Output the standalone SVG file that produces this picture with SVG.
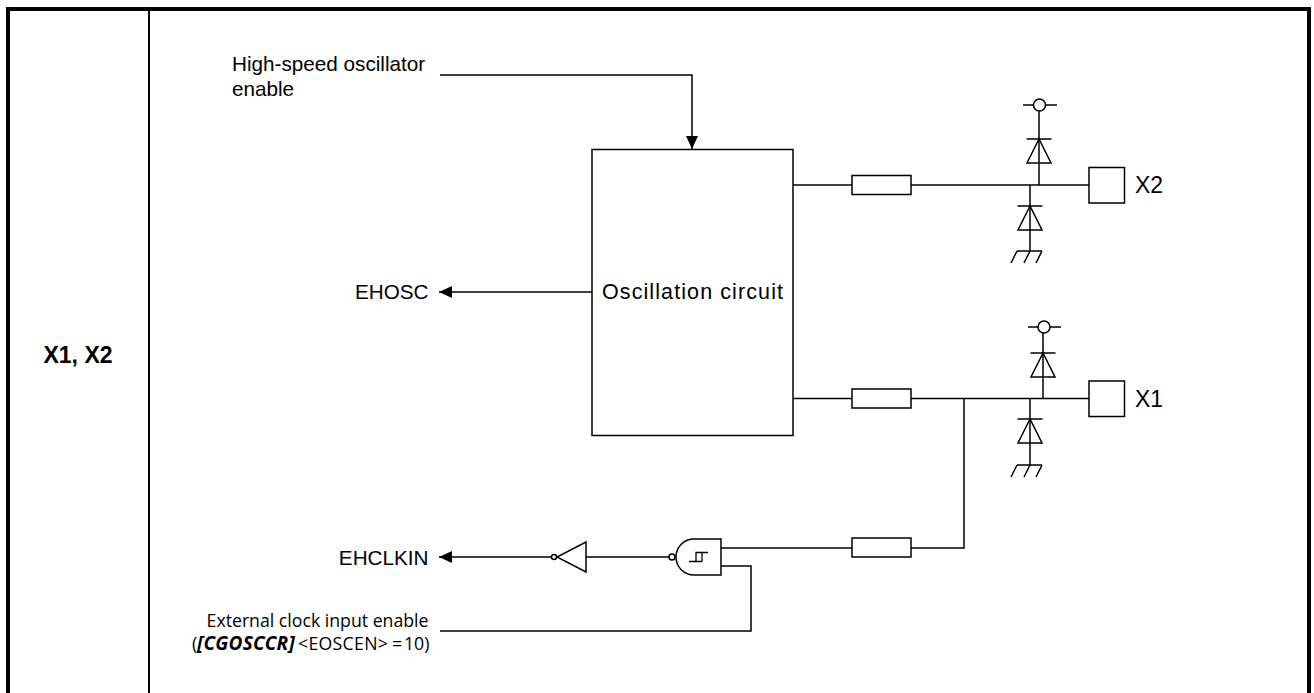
<svg xmlns="http://www.w3.org/2000/svg" width="1314" height="693" viewBox="0 0 1314 693">
<style>
.l{fill:none;stroke:#000;stroke-width:1.500}
.b{fill:#fff;stroke:#000;stroke-width:1.500}
.t{font-family:"Liberation Sans",Arial,sans-serif;font-size:20.700px;fill:#000}
.p{font-size:23px}
.s{font-family:"Open Sans","Noto Sans",sans-serif;font-size:17.700px;fill:#000}
</style>
<defs>
<marker id="a" markerUnits="userSpaceOnUse" markerWidth="14" markerHeight="12" refX="13" refY="6" orient="auto"><path d="M0 0L13 6L0 12Z" fill="#000"/></marker>
<g id="dio"><path class="l" d="M-12.500 0H12.500M0 0L-12 24H12Z"/></g>
<g id="gnd"><path class="l" d="M-13 0H12M-13 0L-19 12M0 0L-6 12M12 0L6 12"/></g>
</defs>
<g id="table">
<path d="M8 693V9H1309V693" fill="none" stroke="#000" stroke-width="4"/>
<path d="M149 10V693" stroke="#000" stroke-width="2"/>
<text x="78" y="363" text-anchor="middle" font-family="Liberation Sans,Arial,sans-serif" font-size="23" font-weight="bold">X1, X2</text>
</g>
<g id="connectors">
<path class="l" d="M440 75H692V149" marker-end="url(#a)"/>
<path class="l" d="M592 292H439" marker-end="url(#a)"/>
<path class="l" d="M793 185H1089"/>
<path class="l" d="M793 398.500H1089"/>
<path class="l" d="M1039 185V105M1030 185V251"/>
<path class="l" d="M1043 398.500V327M1030 398.500V465"/>
<path class="l" d="M964 398.500V548H721"/>
<path class="l" d="M669 557H586"/>
<path class="l" d="M551.500 557H439" marker-end="url(#a)"/>
<path class="l" d="M721 566H751V631H440"/>
</g>
<g id="oscillator"><rect class="b" x="592" y="149.500" width="201" height="286"/><text class="t" x="602" y="299" textLength="181" style="font-size:21.500px">Oscillation circuit</text></g>
<g id="r1"><rect class="b" x="852" y="175.500" width="59" height="19"/></g>
<g id="r2"><rect class="b" x="852" y="389" width="59" height="19"/></g>
<g id="r3"><rect class="b" x="852" y="538" width="59" height="19"/></g>
<g id="padX2"><rect class="b" x="1089" y="167.500" width="35.500" height="35.500"/><text class="t p" x="1135" y="193">X2</text></g>
<g id="padX1"><rect class="b" x="1089" y="381" width="35.500" height="35.500"/><text class="t p" x="1135" y="407">X1</text></g>
<g id="d1">
<path class="l" d="M1023 105H1057"/><circle class="b" cx="1039.500" cy="105" r="6"/>
<use href="#dio" x="1039" y="139"/>
</g>
<g id="d2">
<use href="#dio" x="1030" y="206"/>
<use href="#gnd" x="1030" y="251"/>
</g>
<g id="d3">
<path class="l" d="M1028 327H1061"/><circle class="b" cx="1044" cy="327" r="6"/>
<use href="#dio" x="1043" y="353"/>
</g>
<g id="d4">
<use href="#dio" x="1030" y="419"/>
<use href="#gnd" x="1030" y="465"/>
</g>
<g id="inverter"><path class="b" d="M586 542V572L557 557Z"/><circle class="b" cx="554" cy="557" r="2.500"/></g>
<g id="gate">
<path class="b" d="M721 539H694A18 18 0 0 0 694 575H721Z"/>
<circle class="b" cx="672" cy="557" r="3"/>
<path fill="none" stroke="#000" stroke-width="1.300" d="M689 561.500H702M696 561.500V552.500H708M702 561.500V552.500"/>
</g>
<g id="labels">
<text class="t" x="232" y="71">High-speed oscillator</text>
<text class="t" x="232" y="96">enable</text>
<text class="t" x="428.500" y="299" text-anchor="end">EHOSC</text>
<text class="t" x="428.500" y="565" text-anchor="end">EHCLKIN</text>
<text class="s" x="428.500" y="627" text-anchor="end">External clock input enable</text>
<text class="s" y="650"><tspan x="192">(</tspan><tspan x="197" font-weight="bold" font-style="italic" font-size="19" letter-spacing="0.200">[CGOSCCR]</tspan><tspan x="298" letter-spacing="0.300">&lt;EOSCEN&gt;</tspan><tspan x="392">=</tspan><tspan x="404">10)</tspan></text>
</g>
</svg>
